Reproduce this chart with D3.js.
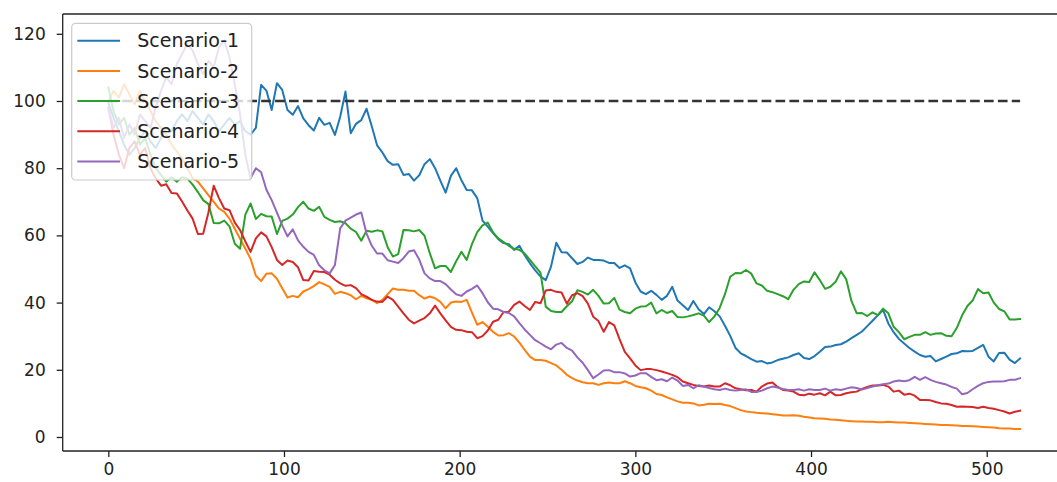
<!DOCTYPE html>
<html>
<head>
<meta charset="utf-8">
<script src="https://cdn.jsdelivr.net/npm/d3@7"></script>
<style>
  html, body { margin: 0; padding: 0; background: #fff; }
  svg { display: block; font-family: "DejaVu Sans", sans-serif; }
</style>
</head>
<body>
<svg id="chart" width="1057" height="482"></svg>
<script>
// Five simulated scenarios, sampled every 3 steps (step 0 .. 519)
const seriesNames = ["Scenario-1", "Scenario-2", "Scenario-3", "Scenario-4", "Scenario-5"];
const stepSize = 3;

const scenario1 = [
  99.5,95,91,87,84,86,89,91,88,86,89,92,91,94,96,94,97,95,93,96,94,91,93,95,93,94,91,90,92,
  104.8,103.1,97.3,105.3,103.3,97.3,95.9,98.5,94.8,92.8,91.2,95.0,92.9,93.5,89.9,95.3,102.8,90.4,93.2,
  94.3,97.7,92.4,86.8,84.7,82.1,81.0,81.2,78.0,78.3,76.3,77.9,81.2,82.7,80.0,76.3,72.7,77.7,80.0,
  76.4,73.5,73.4,71.1,64.4,62.6,60.7,58.9,57.7,57.4,55.7,56.9,54.1,51.7,49.6,47.8,46.7,50.7,57.8,
  55.0,54.9,53.2,51.5,52.1,53.4,52.7,52.7,52.5,51.8,51.8,50.3,51.1,50.2,46.0,43.3,42.5,43.5,42.3,
  40.8,42.0,44.7,40.6,39.2,37.8,40.5,38.0,36.6,38.6,37.4,35.9,33.1,30.1,26.5,24.9,24.1,23.2,22.4,
  22.6,21.9,22.2,22.9,23.3,23.7,24.4,24.9,23.5,23.2,24.1,25.4,26.8,26.9,27.4,27.6,28.4,29.4,30.4,
  31.4,33.0,34.6,36.2,37.8,33.8,31.2,29.2,27.8,26.5,25.4,24.4,23.9,24.1,22.5,23.2,23.9,24.7,24.9,
  25.6,25.5,25.6,26.5,27.4,23.9,22.5,25.0,25.1,23.0,22.0,23.4
];

const scenario2 = [
  100,103,101,105,102,99,103,100,97,94,92,90,87,85,83,80,77,76,74,72,70,68,67,65,62,59,56,53,48,
  46.4,48.6,48.7,47.1,44.3,41.5,42.0,41.6,43.3,44.0,44.9,46.1,45.4,44.7,42.6,43.2,42.8,42.2,41.0,
  42.0,41.3,40.8,39.8,40.8,42.5,44.2,43.8,43.8,43.5,43.5,42.2,41.2,41.8,41.3,40.2,38.3,40.0,40.3,
  40.2,40.8,37.0,33.4,34.2,32.8,31.3,30.2,30.3,30.9,29.9,28.1,25.9,23.9,22.9,22.9,22.7,22.0,21.3,
  20,18.5,17.5,16.8,16.3,16,16,15.5,16,16.2,16,16,16.6,16,15.2,14.8,14.5,13.8,12.8,
  12.5,11.8,11.2,10.6,10.2,10.2,10.0,9.4,9.6,9.9,9.8,9.9,9.5,9.2,8.6,8.0,7.6,7.4,7.2,
  7.1,7.0,6.8,6.6,6.4,6.4,6.5,6.3,6.0,5.8,5.6,5.5,5.4,5.2,5.1,5.0,4.8,4.7,4.6,
  4.6,4.5,4.5,4.4,4.4,4.5,4.4,4.3,4.3,4.2,4.1,4.0,3.9,3.8,3.7,3.6,3.6,3.5,3.4,
  3.3,3.3,3.2,3.1,3.0,2.9,2.8,2.6,2.5,2.5,2.4,2.4
];

const scenario3 = [
  104,97,93,95,90,92,87,89,84,80,78,76,77.3,76.0,77.3,76.9,75.1,72.9,70.5,69.3,63.7,63.6,64.4,62.7,57.5,56,66.2,69.5,64.9,
  66.4,65.7,65.6,60.4,64.3,65.0,66.2,68.4,70.0,68.0,67.3,68.5,65.5,64.6,64.0,64.2,63.6,62.0,61.0,
  58.4,61.4,61.1,61.5,61.2,56.5,53.7,54.4,61.6,61.5,61.2,61.6,59.9,54.7,50.2,50.9,50.9,49.1,52.3,
  55.1,52.7,57.4,61.0,63.0,63.8,60.9,59.1,58.0,56.9,56.0,55.7,54.6,52.7,50.8,48.9,38.8,37.5,37.2,
  37.2,38.9,40.4,43.7,43.2,42.4,43.8,42.0,39.7,39.8,41.4,37.9,37.2,36.8,38.2,38.8,38.9,40.0,36.8,
  37.8,36.9,37.5,35.7,35.6,35.9,36.3,36.8,36.1,34.2,35.9,38.4,42.5,47.7,48.8,48.7,49.7,48.6,45.7,
  45.1,43.5,43.1,42.5,41.9,41.0,43.8,45.5,46.3,46.1,49.0,46.7,44.1,44.7,46.2,49.3,47.0,40.5,36.8,
  36.9,36.0,37.1,36.3,38.2,36.8,32.8,31.2,29.1,29.8,30.4,30.4,31.2,30.4,30.8,30.9,30.1,30.0,32.5,
  36.2,39.0,40.6,44.0,42.8,43.0,40.0,38.1,37.4,35.0,35.0,35.1
];

const scenario4 = [
  98,90,84,80,86,88,84,86,80,77,74.8,75.2,72.6,72.5,70.1,67.4,65.0,60.4,60.5,66.8,74.8,71.1,68.0,67.5,63.8,61.6,58.2,55.1,59.1,
  60.9,59.7,56.5,52.7,51.2,52.5,52.1,50.5,46.7,46.6,49.4,49.2,49.1,48.3,46.8,45.7,45.0,45.2,44.3,
  42.5,41.8,40.8,40.3,40.2,41.8,40.8,38.8,36.8,34.9,33.8,34.6,35.4,36.8,39.1,36.8,34.7,32.8,31.9,
  31.8,31.3,31.2,29.4,30.0,31.7,34.3,34.9,37.2,37.3,39.3,40.3,39.0,37.8,40.2,39.8,43.6,43.8,43.2,
  43.0,39.7,42.2,42.8,41.9,39.7,35.8,34.5,31.3,34.2,33.2,29.1,25.3,23.4,21.3,19.9,20.2,20.2,19.9,
  19.5,19,18.5,17.8,16.5,16,15.5,15.2,15,15.3,15,15,16,15.4,14.5,14.2,13.9,14,13.5,
  15.0,15.9,16.2,14.9,14.0,13.8,13.5,12.6,12.4,12.9,12.6,13.0,12.4,13.5,12.4,12.5,13.0,13.3,13.5,
  14.3,14.9,15.3,15.3,15.5,15.0,13.5,13.8,12.6,12.9,12.3,11.0,11.0,10.9,10.4,10.0,9.9,9.5,9.0,
  9.1,9.0,8.9,8.6,9.0,8.6,8.4,8.0,7.6,7.0,7.5,7.8
];

const scenario5 = [
  98,92,95,89,93,90,96,94,92,98,103,107,105,111,114,117,115,111,108,112,110,116,118,113,105,96,84,77,80,
  78.8,73.6,70.5,66.8,63.0,59.7,61.8,58.5,56.6,55.1,54.2,51.1,49.6,48.7,51.2,62.1,64.4,65.3,66.2,
  66.8,60.5,56.9,54.6,54.6,52.6,52.2,51.8,53.2,55.2,55.6,52.8,48.7,47.2,46.4,46.4,45.5,43.9,42.5,
  42.0,43.3,44.1,45.1,42.8,40.1,38.2,38.0,37.2,36.9,35.9,33.9,32.0,30.4,28.8,27.9,26.9,26.1,27.5,
  28,26.5,25.7,23.7,22.1,19.9,17.5,18.6,19.8,19.9,19.3,19.3,18.9,18.0,18.3,19.0,19.0,17.9,16.9,
  17.2,16.6,17.7,16.8,15.2,15.5,14.5,15.4,15.0,14.6,14.2,14.0,14.4,14.0,13.8,14.0,14.2,13.4,13.4,
  13.8,14.5,15.0,14.7,14.3,14.0,14.0,14.2,13.8,14.2,14.0,14.0,14.4,13.8,14.2,14.0,14.4,14.8,14.6,
  14.1,14.6,15.0,15.4,15.7,15.9,16.5,16.8,16.6,16.9,17.9,17.0,17.8,17.0,16.4,16.0,15.6,14.9,14.4,
  12.7,13.1,14.2,15.2,16.0,16.4,16.5,16.5,16.6,17.0,17.0,17.5
];

const referenceLevel = 100;
const referenceSpan = [0, 519];
const xTickValues = [0, 100, 200, 300, 400, 500];
const yTickValues = [0, 20, 40, 60, 80, 100, 120];
const palette = ["#1f77b4", "#ff7f0e", "#2ca02c", "#d62728", "#9467bd"];

// Layout
const plot = { left: 62.7, right: 1065.7, top: 14, bottom: 451 };

const svg = d3.select("#chart");

const x = d3.scaleLinear().domain([-25.95, 544.95]).range([plot.left, plot.right]);
const y = d3.scaleLinear().domain([-4.17, 125.89]).range([plot.bottom, plot.top]);

const allSeries = [scenario1, scenario2, scenario3, scenario4, scenario5].map((vals, k) => ({
  name: seriesNames[k],
  color: palette[k],
  points: vals.map((v, i) => [i * stepSize, v])
}));

svg.append("defs").append("clipPath").attr("id", "plotClip")
  .append("rect")
  .attr("x", plot.left).attr("y", plot.top)
  .attr("width", plot.right - plot.left).attr("height", plot.bottom - plot.top);

const line = d3.line().x(d => x(d[0])).y(d => y(d[1]));

const plotG = svg.append("g").attr("clip-path", "url(#plotClip)");

allSeries.forEach(s => {
  plotG.append("path")
    .datum(s.points)
    .attr("fill", "none")
    .attr("stroke", s.color)
    .attr("stroke-width", 2.0)
    .attr("stroke-linejoin", "round")
    .attr("stroke-linecap", "square")
    .attr("d", line);
});

// Reference level
plotG.append("path")
  .datum(referenceSpan.map(t => [t, referenceLevel]))
  .attr("fill", "none")
  .attr("stroke", "#333")
  .attr("stroke-width", 2.6)
  .attr("stroke-dasharray", "9.7,4.2")
  .attr("d", line);

// Axes
const axisColor = "#222";
const xAxis = d3.axisBottom(x).tickValues(xTickValues).tickSize(6).tickPadding(6).tickFormat(d3.format("d"));
const yAxis = d3.axisLeft(y).tickValues(yTickValues).tickSize(6).tickPadding(11).tickFormat(d3.format("d"));

const gx = svg.append("g").attr("transform", `translate(0,${plot.bottom})`).call(xAxis);
const gy = svg.append("g").attr("transform", `translate(${plot.left},0)`).call(yAxis);

[gx, gy].forEach(g => {
  g.select(".domain").remove();
  g.selectAll(".tick line").attr("stroke", axisColor).attr("stroke-width", 1.3);
  g.selectAll(".tick text").attr("fill", axisColor).attr("font-size", 17)
    .attr("font-family", "DejaVu Sans, sans-serif");
});

// Spines (left, top, bottom; right edge lies outside the canvas)
const spine = svg.append("g").attr("fill", "none").attr("stroke", axisColor).attr("stroke-width", 1.3);
spine.append("line").attr("x1", plot.left).attr("x2", plot.left).attr("y1", plot.top).attr("y2", plot.bottom);
spine.append("line").attr("x1", plot.left).attr("x2", plot.right).attr("y1", plot.top).attr("y2", plot.top);
spine.append("line").attr("x1", plot.left).attr("x2", plot.right).attr("y1", plot.bottom).attr("y2", plot.bottom);
spine.append("line").attr("x1", plot.right).attr("x2", plot.right).attr("y1", plot.top).attr("y2", plot.bottom);

// Legend
const legend = svg.append("g");
const lg = { x: 71.7, y: 23.3, w: 180, h: 156.7, row0: 40.7, pitch: 30.2, hx0: 77.3, hx1: 120, tx: 137.3 };
legend.append("rect")
  .attr("x", lg.x).attr("y", lg.y).attr("width", lg.w).attr("height", lg.h)
  .attr("rx", 4).attr("ry", 4)
  .attr("fill", "#fff").attr("fill-opacity", 0.8)
  .attr("stroke", "#ccc").attr("stroke-width", 1.2);

allSeries.forEach((s, i) => {
  const cy = lg.row0 + i * lg.pitch;
  legend.append("line")
    .attr("x1", lg.hx0).attr("x2", lg.hx1).attr("y1", cy).attr("y2", cy)
    .attr("stroke", s.color).attr("stroke-width", 2.0);
  legend.append("text")
    .attr("x", lg.tx).attr("y", cy).attr("dy", "0.35em")
    .attr("fill", axisColor).attr("font-size", 19)
    .text(s.name);
});
</script>
</body>
</html>
